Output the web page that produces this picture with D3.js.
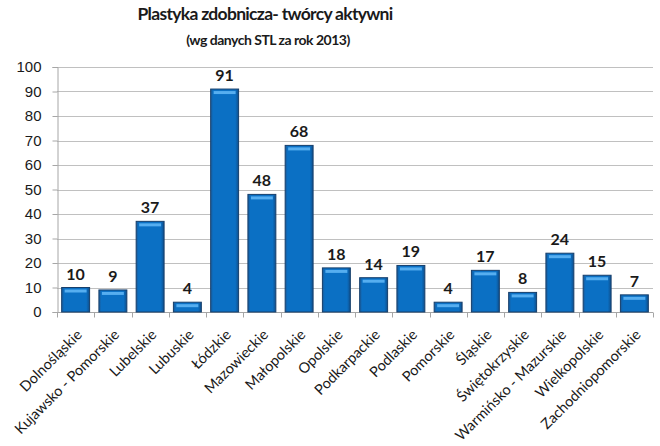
<!DOCTYPE html>
<html>
<head>
<meta charset="utf-8">
<script src="https://cdn.jsdelivr.net/npm/d3@7"></script>
<style>
  body { margin: 0; background: #fff; }
  svg { font-family: Lato, "Open Sans", sans-serif; }
  .grid line { stroke: #c0c0c0; stroke-width: 1; }
  .axis path, .axis line { stroke: #a6a6a6; }
  .axis text { fill: #1a1a1a; }
</style>
</head>
<body>
<svg id="chart"></svg>
<script>
  //begin: data
  var regions = ["Dolnośląskie", "Kujawsko - Pomorskie", "Lubelskie", "Lubuskie", "Łódzkie",
    "Mazowieckie", "Małopolskie", "Opolskie", "Podkarpackie", "Podlaskie", "Pomorskie",
    "Śląskie", "Świętokrzyskie", "Warmińsko - Mazurskie", "Wielkopolskie", "Zachodniopomorskie"];
  var counts = [10, 9, 37, 4, 91, 48, 68, 18, 14, 19, 4, 17, 8, 24, 15, 7];
  var yTicks = [0, 10, 20, 30, 40, 50, 60, 70, 80, 90, 100];
  var title = "Plastyka zdobnicza- twórcy aktywni";
  var subtitle = "(wg danych STL za rok 2013)";
  //end: data

  //begin: layout conf.
  var svgWidth = 660, svgHeight = 446,
      margin = {top: 67, right: 7, bottom: 134, left: 57},
      width = svgWidth - margin.left - margin.right,
      height = svgHeight - margin.top - margin.bottom;
  //end: layout conf.

  var rows = regions.map(function(r, i){ return {name: r, value: counts[i]}; });

  var svg = d3.select("#chart").attr("width", svgWidth).attr("height", svgHeight);

  var defs = svg.append("defs");
  var grad = defs.append("linearGradient").attr("id", "barGrad")
    .attr("x1", 0).attr("x2", 1).attr("y1", 0).attr("y2", 0);
  grad.append("stop").attr("offset", "0%").attr("stop-color", "#1b5a97");
  grad.append("stop").attr("offset", "9%").attr("stop-color", "#0b70c4");
  grad.append("stop").attr("offset", "88%").attr("stop-color", "#0b70c4");
  grad.append("stop").attr("offset", "100%").attr("stop-color", "#0f4f8c");

  svg.append("text")
    .attr("x", 265).attr("y", 20)
    .attr("text-anchor", "middle")
    .style("font-size", "17.5px").style("font-weight", "bold").style("fill", "#1a1a1a")
    .style("letter-spacing", "-0.7px")
    .text(title);
  svg.append("text")
    .attr("x", 268).attr("y", 45)
    .attr("text-anchor", "middle")
    .style("font-size", "14px").style("font-weight", "bold").style("fill", "#1a1a1a")
    .style("letter-spacing", "-0.5px")
    .text(subtitle);

  var g = svg.append("g").attr("transform", "translate(" + [margin.left, margin.top] + ")");

  var x = d3.scaleBand().domain(regions).range([0, width]).paddingInner(0.25).paddingOuter(0.125);
  var y = d3.scaleLinear().domain([0, 100]).range([height, 0]);

  // gridlines
  g.append("g").classed("grid", true)
    .selectAll("line").data(yTicks.slice(1)).enter().append("line")
      .attr("x1", 0).attr("x2", width)
      .attr("y1", function(d){ return Math.round(y(d)) + 0.5; })
      .attr("y2", function(d){ return Math.round(y(d)) + 0.5; });

  // y axis
  var yAxis = g.append("g").classed("axis", true)
    .attr("transform", "translate(0.5,0)")
    .call(d3.axisLeft(y).tickValues(yTicks).tickSize(5).tickPadding(11));
  yAxis.selectAll("text").style("font-size", "15px");

  // x axis, ticks at band boundaries
  var xAxis = g.append("g").classed("axis", true)
    .attr("transform", "translate(0," + (Math.round(height) + 0.5) + ")");
  xAxis.append("line").attr("x1", 0).attr("x2", width);
  var step = x.step();
  xAxis.selectAll(".bound").data(d3.range(regions.length + 1)).enter().append("line")
    .attr("x1", function(i){ return Math.round(i * step) + 0.5; })
    .attr("x2", function(i){ return Math.round(i * step) + 0.5; })
    .attr("y1", 0).attr("y2", 5);
  xAxis.selectAll(".lbl").data(regions).enter().append("text")
    .attr("text-anchor", "end")
    .style("font-size", "14.5px")
    .attr("transform", function(d){
      return "translate(" + [x(d) + x.bandwidth() / 2, 16] + ") rotate(-45)";
    })
    .attr("dy", "0.7em")
    .text(function(d){ return d; });

  // bars
  var bar = g.selectAll(".bar").data(rows).enter().append("g").classed("bar", true);
  bar.append("rect")
    .attr("x", function(d){ return x(d.name); })
    .attr("y", function(d){ return y(d.value); })
    .attr("width", x.bandwidth())
    .attr("height", function(d){ return height - y(d.value); })
    .style("fill", "url(#barGrad)")
    .style("stroke", "#173f6b").style("stroke-width", 1);
  bar.append("rect")
    .attr("x", function(d){ return x(d.name) + 3; })
    .attr("y", function(d){ return y(d.value) + 2; })
    .attr("width", x.bandwidth() - 6)
    .attr("height", 3)
    .style("fill", "#56aef0");
  bar.append("text")
    .attr("x", function(d){ return x(d.name) + x.bandwidth() / 2; })
    .attr("y", function(d){ return y(d.value) - 8; })
    .attr("text-anchor", "middle")
    .style("font-size", "16px").style("font-weight", "bold").style("fill", "#1a1a1a")
    .text(function(d){ return d.value; });
</script>
</body>
</html>
